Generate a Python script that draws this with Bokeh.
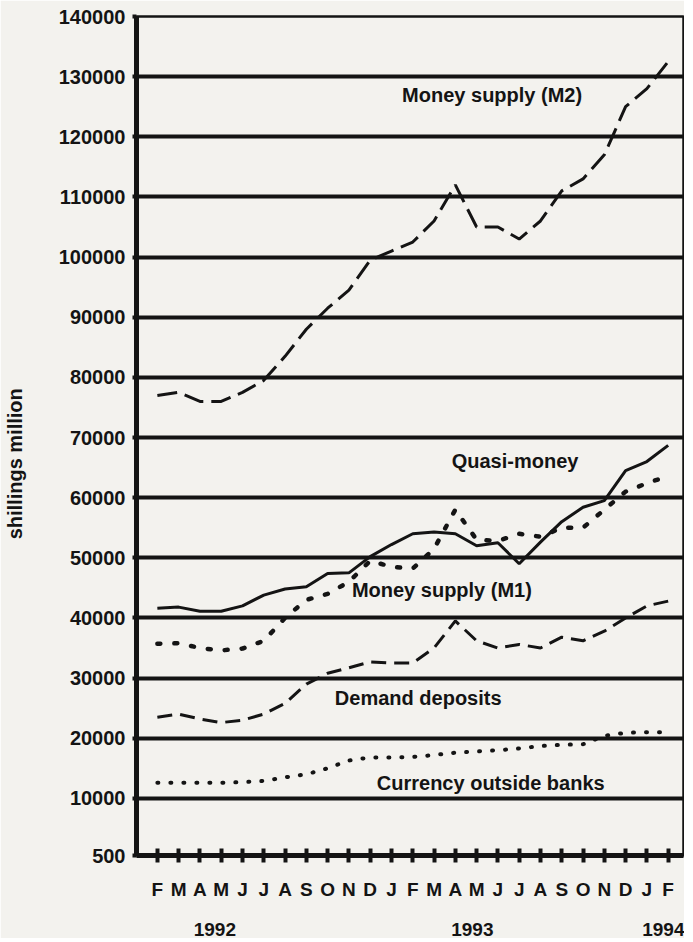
from bokeh.plotting import figure
from bokeh.models import Range1d, FixedTicker, LinearAxis, Label
from bokeh.embed import file_html
from bokeh.resources import INLINE

# ---- data (Feb 1992 .. Feb 1994), shillings million ----
months = ["F", "M", "A", "M", "J", "J", "A", "S", "O", "N", "D", "J",
          "F", "M", "A", "M", "J", "J", "A", "S", "O", "N", "D", "J", "F"]
month_idx = list(range(len(months)))

m2 = [77000, 77500, 76000, 76000, 77500, 79500, 83500, 88000, 91500, 94500,
      99500, 101000, 102500, 106000, 112000, 105000, 105000, 103000, 106000,
      111000, 113000, 117000, 125000, 128000, 132500]
quasi = [41600, 41800, 41100, 41100, 42000, 43800, 44800, 45200, 47400, 47500,
         50200, 52200, 54000, 54300, 54000, 52000, 52500, 49000, 52600, 56000,
         58400, 59500, 64500, 66000, 68700]
m1 = [35700, 35800, 35000, 34600, 34900, 36200, 40000, 43000, 44000, 46000,
      49500, 48500, 48200, 51500, 58000, 53000, 52800, 54000, 53500, 55000,
      55000, 58000, 61000, 62400, 63600]
demand = [23500, 24000, 23200, 22600, 23000, 24000, 25800, 29000, 30800, 31700,
          32700, 32500, 32500, 35000, 39500, 36200, 35000, 35600, 35000, 36800,
          36200, 37800, 40000, 42000, 42800]
currency = [12600, 12600, 12600, 12600, 12700, 12900, 13500, 14000, 15000, 16300,
            16800, 16800, 16900, 17200, 17600, 17800, 18000, 18300, 18700, 18900,
            19000, 20400, 20900, 21000, 21000]

y_ticks = [500, 10000, 20000, 30000, 40000, 50000, 60000, 70000, 80000, 90000,
           100000, 110000, 120000, 130000, 140000]
y_tick_labels = [str(v) for v in y_ticks]
years = ["1992", "1993", "1994"]
year_ticks = [2.7, 14.8, 23.8]

series_names = ["Money supply (M2)", "Quasi-money", "Money supply (M1)",
                "Demand deposits", "Currency outside banks"]

# ---- styling ----
INK = "#141414"
PAPER = "#f3f2ee"
FONT = "Liberation Sans"

p = figure(width=684, height=938,
           x_range=Range1d(-0.98, 24.72), y_range=Range1d(500, 140000),
           output_backend="svg", toolbar_location=None,
           min_border_left=135, min_border_right=1, min_border_top=16,
           min_border_bottom=82)
p.background_fill_color = PAPER
p.border_fill_color = PAPER
p.outline_line_color = INK
p.outline_line_width = 2.5

p.xgrid.visible = False
p.ygrid.ticker = FixedTicker(ticks=y_ticks)
p.ygrid.grid_line_color = INK
p.ygrid.grid_line_width = 4
p.ygrid.grid_line_alpha = 1.0

# y axis
ya = p.yaxis[0]
ya.ticker = FixedTicker(ticks=y_ticks)
ya.major_label_overrides = dict(zip(y_ticks, y_tick_labels))
ya.axis_line_color = INK
ya.axis_line_width = 5
ya.major_tick_line_color = INK
ya.major_tick_line_width = 4
ya.major_tick_in = 0
ya.major_tick_out = 4
ya.minor_tick_line_color = None
ya.major_label_standoff = 7
ya.major_label_text_font = FONT
ya.major_label_text_font_style = "bold"
ya.major_label_text_font_size = "20px"
ya.major_label_text_color = INK
ya.axis_label = "shillings million" + "\u00a0" * 10
ya.axis_label_text_font = FONT
ya.axis_label_text_font_style = "bold"
ya.axis_label_text_font_size = "20px"
ya.axis_label_text_color = INK
ya.axis_label_standoff = 30

# x axis (months)
xa = p.xaxis[0]
xa.ticker = FixedTicker(ticks=month_idx)
xa.major_label_overrides = dict(zip(month_idx, months))
xa.axis_line_color = INK
xa.axis_line_width = 5
xa.major_tick_line_color = INK
xa.major_tick_line_width = 4
xa.major_tick_in = 7
xa.major_tick_out = 7
xa.minor_tick_line_color = None
xa.major_label_standoff = 16
xa.major_label_text_font = FONT
xa.major_label_text_font_style = "bold"
xa.major_label_text_font_size = "19px"
xa.major_label_text_color = INK

# year axis
yr = LinearAxis(ticker=FixedTicker(ticks=year_ticks),
                major_label_overrides=dict(zip(year_ticks, years)),
                axis_line_color=None, major_tick_line_color=None,
                minor_tick_line_color=None, major_label_standoff=14,
                major_label_text_font=FONT, major_label_text_font_style="bold",
                major_label_text_font_size="19px", major_label_text_color=INK)
p.add_layout(yr, "below")

# ---- series ----
p.line(month_idx, m2, line_color=INK, line_width=3, line_dash="20 8")
p.line(month_idx, quasi, line_color=INK, line_width=3)
p.line(month_idx, m1, line_color=INK, line_width=4.5, line_dash="3 14",
       line_cap="round")
p.line(month_idx, demand, line_color=INK, line_width=3, line_dash="15 8")
p.line(month_idx, currency, line_color=INK, line_width=4, line_dash="1 12",
       line_cap="round")

# ---- series labels ----
label_x = [11.5, 13.83, 9.14, 8.34, 10.31]
label_y = [126900, 66100, 44700, 26740, 12620]
for name, lx, ly in zip(series_names, label_x, label_y):
    p.add_layout(Label(x=lx, y=ly, text=name, text_font=FONT,
                       text_font_style="bold", text_font_size="20px",
                       text_color=INK, text_baseline="middle",
                       text_align="left"))

open("out.html", "w").write(file_html(p, INLINE))
